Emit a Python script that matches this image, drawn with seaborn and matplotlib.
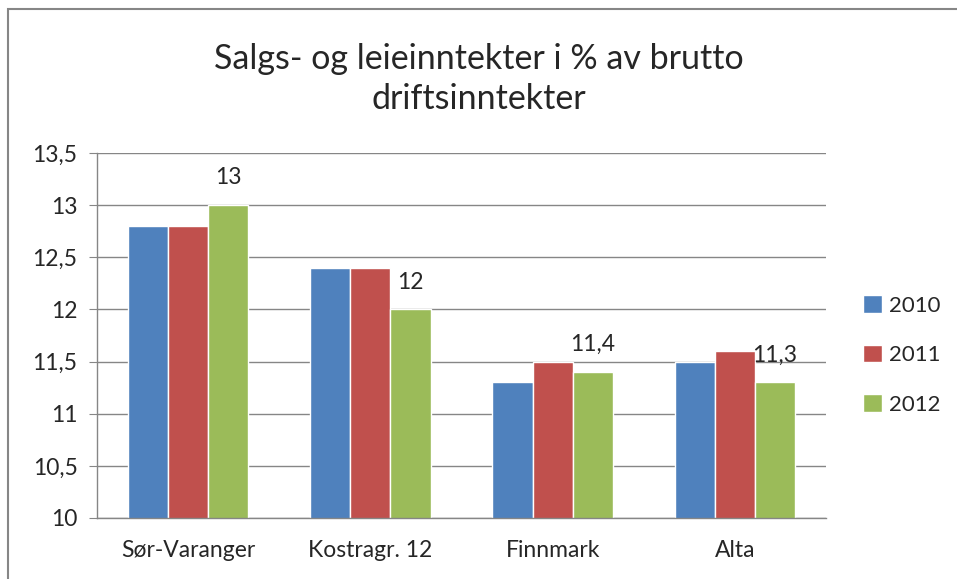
import pandas as pd
import matplotlib.pyplot as plt
import seaborn as sns
from matplotlib.ticker import FuncFormatter, MultipleLocator
from matplotlib.patches import Rectangle

# Data
categories = ['Sør-Varanger', 'Kostragr. 12', 'Finnmark', 'Alta']
years = ['2010', '2011', '2012']
values_2010 = [12.8, 12.4, 11.3, 11.5]
values_2011 = [12.8, 12.4, 11.5, 11.6]
values_2012 = [13.0, 12.0, 11.4, 11.3]
colors = ['#4F81BD', '#C0504D', '#9BBB59']

df = pd.DataFrame({
    'Kommune': categories * 3,
    'År': [y for y in years for _ in categories],
    'Verdi': values_2010 + values_2011 + values_2012,
})

sns.set_style('white')
plt.rcParams['font.family'] = ['Lato', 'DejaVu Sans']

fig = plt.figure(figsize=(9.57, 5.79), dpi=100)
ax = fig.add_axes([97 / 957, 1 - 518 / 579, (826 - 97) / 957, (518 - 153) / 579])

sns.barplot(data=df, x='Kommune', y='Verdi', hue='År', palette=colors,
            width=0.66, saturation=1, ax=ax, legend=True)

ax.set_ylim(10, 13.5)
ax.yaxis.set_major_locator(MultipleLocator(0.5))
ax.yaxis.set_major_formatter(FuncFormatter(lambda v, p: f'{v:g}'.replace('.', ',')))
ax.grid(axis='y', color='#868686', linewidth=1)
ax.set_axisbelow(True)
for side in ['top', 'right']:
    ax.spines[side].set_visible(False)
for side in ['left', 'bottom']:
    ax.spines[side].set_color('#868686')
    ax.spines[side].set_linewidth(1)
ax.tick_params(axis='y', left=True, length=6, color='#868686', labelsize=16.5, pad=8)
ax.tick_params(axis='x', bottom=False, labelsize=16.5, pad=12)
ax.set_xlabel('')
ax.set_ylabel('')

# Data labels only on 2012 series
ax.bar_label(ax.containers[2], labels=[f'{v:g}'.replace('.', ',') for v in values_2012],
             fontsize=16.5, padding=12)

ax.legend(frameon=False, loc='center left', bbox_to_anchor=(1.024, 0.447),
          fontsize=16, handlelength=0.85, handleheight=0.85, handletextpad=0.3,
          labelspacing=1.3)

fig.suptitle('Salgs- og leieinntekter i % av brutto\ndriftsinntekter',
             fontsize=24.5, y=0.925, linespacing=1.3)

# Outer chart border
fig.patches.append(Rectangle((8 / 957, -0.02), 1.0, 1 - 9 / 579 + 0.02,
                             transform=fig.transFigure, fill=False,
                             edgecolor='#868686', linewidth=1.5))

fig.savefig('out.png', dpi=100)
